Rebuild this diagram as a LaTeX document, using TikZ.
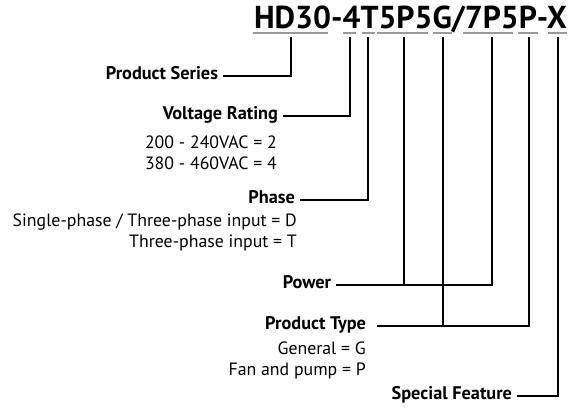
\documentclass[tikz,border=0pt]{standalone}
\usepackage{fontspec}
\setmainfont{PT Sans}
\begin{document}
\begin{tikzpicture}[x=1pt,y=-1pt,
  lab/.style={font=\fontsize{18.3}{21}\selectfont\bfseries, inner sep=0pt, outer xsep=5pt, anchor=east, text height=0.62em, text depth=0pt},
  desc/.style={font=\fontsize{17.8}{21}\selectfont, inner sep=0pt, anchor=east, align=right},
  conn/.style={line width=1.8pt, line cap=butt, line join=miter},
  ul/.style={line width=2pt, draw=black!40},
  title/.style={font=\fontsize{31.7}{34}\selectfont\bfseries, inner sep=0pt, anchor=base east}]
\useasboundingbox (0,0) rectangle (569,408);

\node[title] (ttl) at (567,28) {HD30-4T5P5G/7P5P-X};

% grey underline segments
\draw[ul] (253,33) -- (328,33);
\draw[ul] (343,33) -- (356,33);
\draw[ul] (362,33) -- (375,33);
\draw[ul] (377,33) -- (428,33);
\draw[ul] (433,33) -- (452,33);
\draw[ul] (463,33) -- (513,33);
\draw[ul] (518,33) -- (538,33);
\draw[ul] (548,33) -- (567,33);

% top ends of the connectors
\coordinate (t1) at (291,37);
\coordinate (t2) at (350,37);
\coordinate (t3) at (368,37);
\coordinate (t4) at (404,37);
\coordinate (t5) at (443,37);
\coordinate (t6) at (492,37);
\coordinate (t7) at (529,37);
\coordinate (t8) at (558,37);

% labels
\node[lab] (ps) at (223,76) {Product Series};
\node[lab] (vr) at (283,116) {Voltage Rating};
\node[desc] (vrd) at (277,152.5) {200 - 240VAC = 2\\380 - 460VAC = 4};
\node[lab] (ph) at (300,200) {Phase};
\node[desc] (phd) at (297,232) {Single-phase / Three-phase input = D\\Three-phase input = T};
\node[lab] (pw) at (336,285) {Power};
\node[lab, outer xsep=11pt] (pt) at (377,326) {Product Type};
\node[desc] (ptd) at (366,360) {General = G\\Fan and pump = P};
\node[lab] (sf) at (517,396) {Special Feature};

% connectors
\draw[conn] (t1) |- (ps.east);
\draw[conn] (t2) |- (vr.east);
\draw[conn] (t3) |- (ph.east);
\draw[conn] (pw.east) -| (t6);
\draw[conn] (t4) -- (t4 |- pw.east);
\draw[conn] (pt.east) -| (t7);
\draw[conn] (t5) -- (t5 |- pt.east);
\draw[conn] (t8) |- (sf.east);
\end{tikzpicture}
\end{document}
